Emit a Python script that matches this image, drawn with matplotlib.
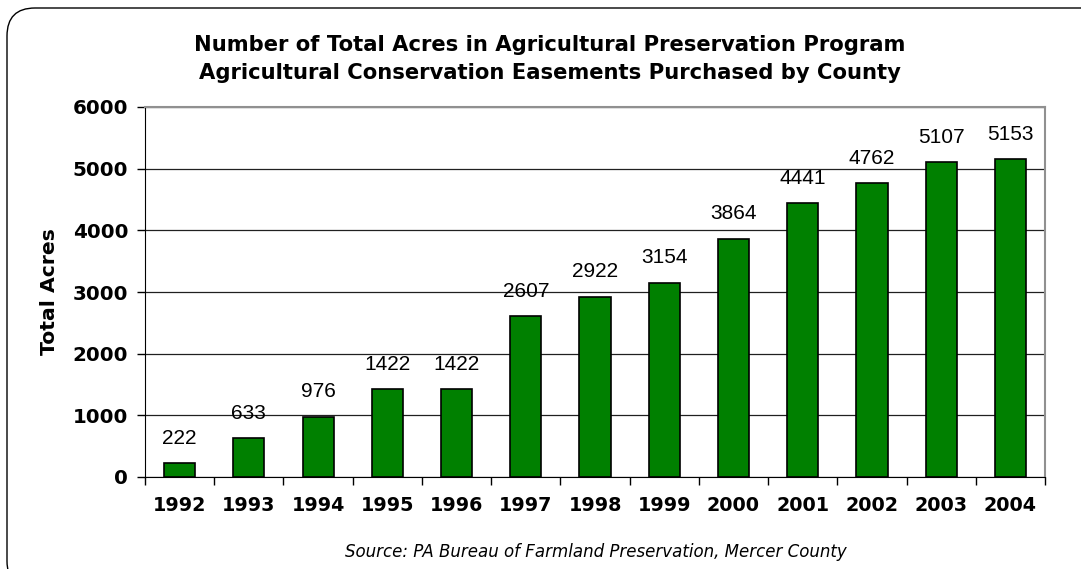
import matplotlib
matplotlib.use("Agg")
import matplotlib.pyplot as plt
from matplotlib.patches import FancyBboxPatch
import numpy as np

years = ["1992", "1993", "1994", "1995", "1996", "1997", "1998",
         "1999", "2000", "2001", "2002", "2003", "2004"]
acres = [222, 633, 976, 1422, 1422, 2607, 2922, 3154, 3864, 4441, 4762, 5107, 5153]
yticks = [0, 1000, 2000, 3000, 4000, 5000, 6000]

W, H = 1081, 569
fig = plt.figure(figsize=(W / 100, H / 100), dpi=100)

# rounded outer frame, laid out in inches so the corner stays circular
frame = FancyBboxPatch((0.07, -0.2), (W + 30) / 100, (H + 12) / 100,
                       boxstyle="round,pad=0,rounding_size=0.28",
                       transform=fig.dpi_scale_trans, fill=False,
                       edgecolor="black", linewidth=1.0)
fig.patches.append(frame)

ax = fig.add_axes([145 / W, 1 - 477 / H, 900 / W, 370 / H])
x = np.arange(len(years))
ax.bar(x, acres, width=0.45, color="#008000", edgecolor="black", linewidth=1.2, zorder=3)

for xi, v in zip(x, acres):
    ax.text(xi, v + 250, str(v), ha="center", va="bottom",
            fontsize=15, family="Liberation Sans", color="black")

ax.set_xlim(-0.5, len(years) - 0.5)
ax.set_ylim(0, 6000)
ax.set_yticks(yticks)
ax.set_yticklabels([str(t) for t in yticks], fontsize=14.3, fontweight="bold",
                   family="DejaVu Sans")
ax.yaxis.grid(True, color="#202020", linewidth=0.9, zorder=0)
ax.set_axisbelow(True)

ax.set_xticks(x)
ax.set_xticklabels(years, fontsize=13.8, fontweight="bold", family="DejaVu Sans")
ax.tick_params(axis="x", length=0, pad=14)
ax.set_xticks(np.arange(len(years) + 1) - 0.5, minor=True)
ax.tick_params(axis="x", which="minor", length=6, width=1, color="black")
ax.tick_params(axis="y", length=6, width=1, pad=6)

for side in ("top", "right"):
    ax.spines[side].set_color("#909090")
    ax.spines[side].set_linewidth(1.5)
ax.spines["left"].set_color("black")
ax.spines["bottom"].set_color("black")

ax.set_ylabel("Total Acres", fontsize=14.7, fontweight="bold", family="DejaVu Sans", labelpad=10)

fig.text(550 / W, 1 - 59 / H,
         "Number of Total Acres in Agricultural Preservation Program\n"
         "Agricultural Conservation Easements Purchased by County",
         ha="center", va="center", fontsize=15.2, fontweight="bold",
         family="DejaVu Sans", linespacing=1.55)

fig.text(596 / W, 1 - 552 / H,
         "Source: PA Bureau of Farmland Preservation, Mercer County",
         ha="center", va="center", fontsize=12, style="italic",
         family="DejaVu Sans")

fig.savefig("out.png", dpi=100)
